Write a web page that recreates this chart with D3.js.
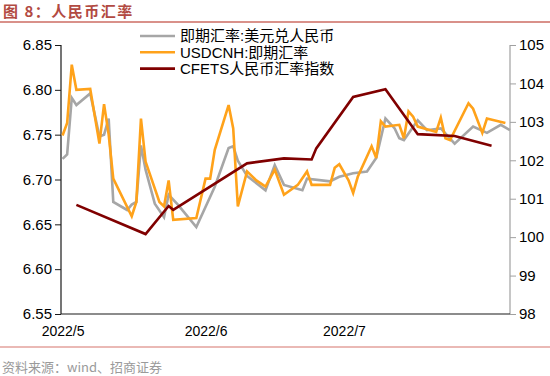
<!DOCTYPE html>
<html>
<head>
<meta charset="utf-8">
<script src="https://cdn.jsdelivr.net/npm/d3@7"></script>
<style>
  body { margin: 0; background: #fff; }
  svg { display: block; font-family: "Liberation Sans", Arial, "Noto Sans CJK SC", sans-serif; }
</style>
</head>
<body>
<svg id="chart"></svg>
<script>
// 即期汇率:美元兑人民币 (left axis)
const spotDates = ["2022-05-01","2022-05-02","2022-05-03","2022-05-04","2022-05-07","2022-05-09","2022-05-10","2022-05-11","2022-05-12","2022-05-15","2022-05-16","2022-05-17","2022-05-18","2022-05-19","2022-05-21","2022-05-23","2022-05-24","2022-05-26","2022-05-30","2022-06-03","2022-06-06","2022-06-07","2022-06-08","2022-06-10","2022-06-14","2022-06-16","2022-06-18","2022-06-22","2022-06-23","2022-06-28","2022-06-30","2022-07-03","2022-07-06","2022-07-08","2022-07-10","2022-07-12","2022-07-13","2022-07-14","2022-07-17","2022-07-19","2022-07-22","2022-07-25","2022-07-29","2022-08-01","2022-08-04","2022-08-06"];
const spotValues = [6.723,6.728,6.791,6.783,6.796,6.748,6.750,6.768,6.675,6.666,6.672,6.675,6.738,6.711,6.673,6.658,6.683,6.672,6.647,6.692,6.735,6.737,6.721,6.704,6.688,6.716,6.694,6.688,6.701,6.698,6.703,6.707,6.709,6.724,6.768,6.757,6.746,6.744,6.766,6.755,6.757,6.740,6.759,6.752,6.761,6.755];

// USDCNH:即期汇率 (left axis)
const cnhDates = ["2022-05-01","2022-05-02","2022-05-03","2022-05-04","2022-05-07","2022-05-09","2022-05-10","2022-05-11","2022-05-12","2022-05-16","2022-05-17","2022-05-18","2022-05-19","2022-05-22","2022-05-23","2022-05-24","2022-05-25","2022-05-30","2022-06-01","2022-06-02","2022-06-03","2022-06-06","2022-06-07","2022-06-08","2022-06-10","2022-06-12","2022-06-14","2022-06-16","2022-06-18","2022-06-21","2022-06-23","2022-06-24","2022-06-28","2022-06-29","2022-06-30","2022-07-02","2022-07-03","2022-07-04","2022-07-07","2022-07-08","2022-07-09","2022-07-10","2022-07-13","2022-07-14","2022-07-15","2022-07-16","2022-07-17","2022-07-21","2022-07-22","2022-07-23","2022-07-24","2022-07-28","2022-07-29","2022-07-31","2022-08-01","2022-08-05"];
const cnhValues = [6.749,6.763,6.828,6.800,6.801,6.740,6.784,6.750,6.701,6.659,6.675,6.768,6.720,6.675,6.670,6.699,6.655,6.657,6.701,6.701,6.733,6.783,6.757,6.670,6.709,6.699,6.692,6.711,6.683,6.694,6.709,6.694,6.694,6.713,6.717,6.699,6.685,6.703,6.737,6.724,6.765,6.759,6.761,6.746,6.776,6.770,6.759,6.753,6.769,6.746,6.744,6.785,6.779,6.752,6.768,6.763];

// CFETS人民币汇率指数 (right axis)
const cfetsDates = ["2022-05-04","2022-05-19","2022-05-24","2022-05-25","2022-06-10","2022-06-18","2022-06-24","2022-06-25","2022-07-03","2022-07-10","2022-07-17","2022-07-25","2022-08-02"];
const cfetsValues = [100.84,100.08,100.81,100.71,101.92,102.05,102.02,102.31,103.65,103.85,102.68,102.63,102.38];

const leftTicks = [6.55, 6.60, 6.65, 6.70, 6.75, 6.80, 6.85];
const rightTicks = [98, 99, 100, 101, 102, 103, 104, 105];
const monthTicks = ["2022-05-01", "2022-06-01", "2022-07-01"];
const monthLabels = ["2022/5", "2022/6", "2022/7"];

const seriesNames = ["即期汇率:美元兑人民币", "USDCNH:即期汇率", "CFETS人民币汇率指数"];
const seriesColors = ["#a6a6a6", "#ffa21a", "#800000"];

const parseDate = d3.timeParse("%Y-%m-%d");

const width = 550, height = 376;
const plot = { left: 61, right: 510, top: 45, bottom: 314 };

const svg = d3.select("#chart")
  .attr("width", width)
  .attr("height", height);

// Title and header rule
svg.append("text")
  .attr("x", 3)
  .attr("y", 17)
  .attr("fill", "#b24a42")
  .attr("font-size", "15px")
  .attr("font-weight", "bold")
  .attr("letter-spacing", "1.5px")
  .attr("font-family", "'Noto Sans CJK SC', sans-serif")
  .text("图 8：人民币汇率");

svg.append("line")
  .attr("x1", 0).attr("x2", width)
  .attr("y1", 22).attr("y2", 22)
  .attr("stroke", "#d9918a")
  .attr("stroke-width", 2);

// Scales
const xScale = d3.scaleTime()
  .domain([d3.timeHour.offset(parseDate("2022-05-01"), -8), parseDate("2022-08-06")])
  .range([plot.left, plot.right]);

const yLeft = d3.scaleLinear()
  .domain([6.55, 6.85])
  .range([plot.bottom, plot.top]);

const yRight = d3.scaleLinear()
  .domain([98, 105])
  .range([plot.bottom, plot.top]);

// Axes
const leftAxis = svg.append("g")
  .attr("transform", `translate(${plot.left},0)`)
  .call(d3.axisLeft(yLeft).tickValues(leftTicks).tickFormat(d3.format(".2f")).tickSize(6).tickPadding(3));
leftAxis.select(".domain").attr("stroke", "#1a1a1a").attr("stroke-width", 1.2).attr("d", `M0,${plot.top}V${plot.bottom}`);
leftAxis.selectAll(".tick line").attr("stroke", "#1a1a1a");
leftAxis.selectAll("text").attr("font-size", "15px").attr("fill", "#000").attr("font-family", "'Liberation Sans', Arial, sans-serif");

const rightAxis = svg.append("g")
  .attr("transform", `translate(${plot.right},0)`)
  .call(d3.axisRight(yRight).tickValues(rightTicks).tickFormat(d3.format("d")).tickSize(6).tickPadding(3));
rightAxis.select(".domain").attr("stroke", "#a0a0a0").attr("stroke-width", 1.2).attr("d", `M0,${plot.top}V${plot.bottom}`);
rightAxis.selectAll(".tick line").attr("stroke", "#a0a0a0");
rightAxis.selectAll("text").attr("font-size", "15px").attr("fill", "#000").attr("font-family", "'Liberation Sans', Arial, sans-serif");

const bottomAxis = svg.append("g")
  .attr("transform", `translate(0,${plot.bottom})`)
  .call(d3.axisBottom(xScale)
    .tickValues(monthTicks.map(parseDate))
    .tickFormat((d, i) => monthLabels[i])
    .tickSize(0)
    .tickPadding(12));
bottomAxis.select(".domain").attr("stroke", "#1a1a1a").attr("stroke-width", 1.2).attr("d", `M${plot.left},0H${plot.right}`);
bottomAxis.selectAll("text").attr("font-size", "14px").attr("fill", "#000").attr("font-family", "'Liberation Sans', Arial, sans-serif");

// Lines
const series = [
  { dates: spotDates, values: spotValues, y: yLeft },
  { dates: cnhDates, values: cnhValues, y: yLeft },
  { dates: cfetsDates, values: cfetsValues, y: yRight }
];

series.forEach((s, i) => {
  const pts = s.dates.map((d, j) => [parseDate(d), s.values[j]]);
  const line = d3.line()
    .x(d => xScale(d[0]))
    .y(d => s.y(d[1]));
  svg.append("path")
    .datum(pts)
    .attr("fill", "none")
    .attr("stroke", seriesColors[i])
    .attr("stroke-width", 2.6)
    .attr("stroke-linejoin", "miter")
    .attr("d", line);
});

// Legend
const legend = svg.append("g")
  .attr("transform", "translate(140,36)");

seriesNames.forEach((name, i) => {
  const row = legend.append("g").attr("transform", `translate(0,${i * 16.3})`);
  row.append("line")
    .attr("x1", 0).attr("x2", 35)
    .attr("stroke", seriesColors[i])
    .attr("stroke-width", 2.6);
  row.append("text")
    .attr("x", 40)
    .attr("dy", "0.35em")
    .attr("font-size", "15px")
    .attr("fill", "#000")
    .text(name);
});

// Footer
svg.append("line")
  .attr("x1", 0).attr("x2", width)
  .attr("y1", 347).attr("y2", 347)
  .attr("stroke", "#e3a29c")
  .attr("stroke-width", 1.5);

svg.append("text")
  .attr("x", 2)
  .attr("y", 372)
  .attr("font-size", "13px")
  .attr("fill", "#9a9a9a")
  .attr("font-family", "'Noto Sans CJK SC', sans-serif")
  .text("资料来源：wind、招商证券");
</script>
</body>
</html>
